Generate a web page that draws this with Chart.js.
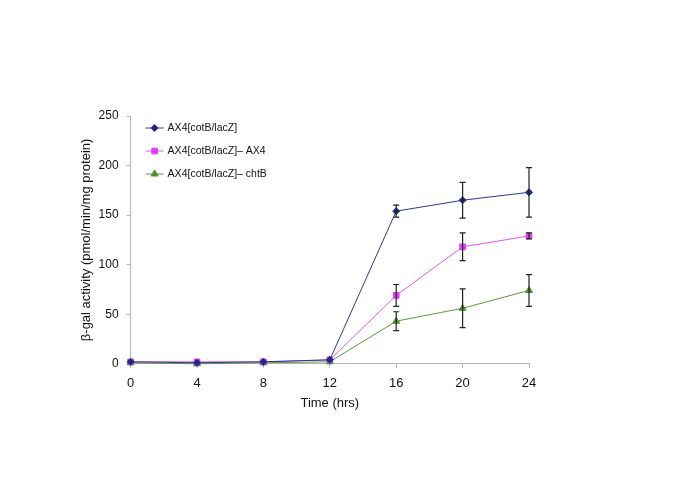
<!DOCTYPE html>
<html>
<head>
<meta charset="utf-8">
<script src="https://cdn.jsdelivr.net/npm/chart.js@4"></script>
<style>
  html, body { margin: 0; padding: 0; background: #fff; }
  #wrap { width: 685px; height: 484px; }
</style>
</head>
<body>
<div id="wrap"><canvas id="galChart"></canvas></div>
<script>
const hours = [0, 4, 8, 12, 16, 20, 24];
const xTicks = [0, 4, 8, 12, 16, 20, 24];
const yTicks = [0, 50, 100, 150, 200, 250];

const wtValues = [2, 1, 2, 4, 154, 165, 173];
const wtErrors = [0, 0, 0, 0, 6, 18, 25];
const ax4Values = [2, 2, 2, 4, 69, 118, 129];
const ax4Errors = [0, 0, 0, 0, 11, 14, 3];
const chtValues = [1, 0, 1, 2, 43, 56, 74];
const chtErrors = [0, 0, 0, 0, 9.5, 19.5, 16];

const seriesLabels = ['AX4[cotB/lacZ]', 'AX4[cotB/lacZ]\u2013 AX4', 'AX4[cotB/lacZ]\u2013 chtB'];

function toPoints(vals) {
    return hours.map((h, i) => ({ x: h, y: vals[i] }));
}

// error bars, drawn through the scales
const errorBars = {
    id: 'errorBars',
    afterDatasetsDraw(chart) {
        const ctx = chart.ctx;
        const xs = chart.scales.x, ys = chart.scales.y;
        ctx.save();
        ctx.strokeStyle = '#222';
        ctx.lineWidth = 1.2;
        chart.data.datasets.forEach(ds => {
            ds.data.forEach((p, i) => {
                const e = ds.errors[i];
                if (!e) return;
                const px = xs.getPixelForValue(p.x);
                const top = ys.getPixelForValue(p.y + e);
                const bot = ys.getPixelForValue(p.y - e);
                ctx.beginPath();
                ctx.moveTo(px, top); ctx.lineTo(px, bot);
                ctx.moveTo(px - 3, top); ctx.lineTo(px + 3, top);
                ctx.moveTo(px - 3, bot); ctx.lineTo(px + 3, bot);
                ctx.stroke();
            });
        });
        ctx.restore();
    }
};

// legend with line + marker, inside the plot
const lineLegend = {
    id: 'lineLegend',
    afterDraw(chart) {
        const ctx = chart.ctx;
        const area = chart.chartArea;
        ctx.save();
        ctx.font = '10.5px "Liberation Sans", Arial, sans-serif';
        ctx.textBaseline = 'middle';
        chart.data.datasets.forEach((ds, i) => {
            const y = area.top + 12 + i * 23;
            const x0 = area.left + 15;
            ctx.strokeStyle = ds.borderColor;
            ctx.lineWidth = 1;
            ctx.beginPath();
            ctx.moveTo(x0, y); ctx.lineTo(x0 + 18, y);
            ctx.stroke();
            ctx.fillStyle = ds.pointBackgroundColor;
            ctx.strokeStyle = ds.pointBackgroundColor;
            Chart.helpers.drawPoint(ctx, {
                pointStyle: ds.pointStyle, radius: ds.pointRadius, borderWidth: 1, rotation: 0
            }, x0 + 9, y);
            ctx.fillStyle = '#111';
            ctx.fillText(ds.label, x0 + 22, y);
        });
        ctx.restore();
    }
};

const axisFont = { family: '"Liberation Sans", Arial', size: 13 };

new Chart(document.getElementById('galChart'), {
    type: 'line',
    data: {
        datasets: [{
            label: seriesLabels[0],
            data: toPoints(wtValues),
            errors: wtErrors,
            borderColor: '#2b3a8f',
            pointBackgroundColor: '#1f2a80',
            pointBorderColor: '#1f2a80',
            pointStyle: 'rectRot',
            pointRadius: 3.5,
            borderWidth: 1,
            clip: false
        }, {
            label: seriesLabels[1],
            data: toPoints(ax4Values),
            errors: ax4Errors,
            borderColor: '#e455ee',
            pointBackgroundColor: '#e040f0',
            pointBorderColor: '#e040f0',
            pointStyle: 'rect',
            pointRadius: 4,
            borderWidth: 1,
            clip: false
        }, {
            label: seriesLabels[2],
            data: toPoints(chtValues),
            errors: chtErrors,
            borderColor: '#5a9a3a',
            pointBackgroundColor: '#4e8f30',
            pointBorderColor: '#4e8f30',
            pointStyle: 'triangle',
            pointRadius: 4,
            borderWidth: 1,
            clip: false
        }]
    },
    options: {
        responsive: true,
        maintainAspectRatio: false,
        animation: false,
        layout: { padding: { left: 79, right: 156, top: 116, bottom: 73 } },
        plugins: { legend: { display: false }, tooltip: { enabled: false } },
        scales: {
            x: {
                type: 'linear',
                min: 0, max: 24,
                afterBuildTicks: axis => { axis.ticks = xTicks.map(v => ({ value: v })); },
                grid: { display: true, drawOnChartArea: false, drawTicks: true, tickLength: 4, color: '#b5b5b5' },
                border: { color: '#b5b5b5', width: 1 },
                ticks: { color: '#111', font: axisFont, padding: 8, maxRotation: 0 },
                title: { display: true, text: 'Time (hrs)', color: '#111', font: axisFont, padding: { top: -4, bottom: 0 } }
            },
            y: {
                min: 0, max: 250,
                afterBuildTicks: axis => { axis.ticks = yTicks.map(v => ({ value: v })); },
                grid: { display: true, drawOnChartArea: false, drawTicks: true, tickLength: 4, color: '#b5b5b5' },
                border: { color: '#b5b5b5', width: 1 },
                ticks: { color: '#111', font: { family: '"Liberation Sans", Arial', size: 12 }, padding: 8 },
                title: { display: true, text: '\u03b2-gal activity (pmol/min/mg protein)', color: '#111', font: axisFont, padding: { top: 0, bottom: -4 } }
            }
        }
    },
    plugins: [errorBars, lineLegend]
});
</script>
</body>
</html>
